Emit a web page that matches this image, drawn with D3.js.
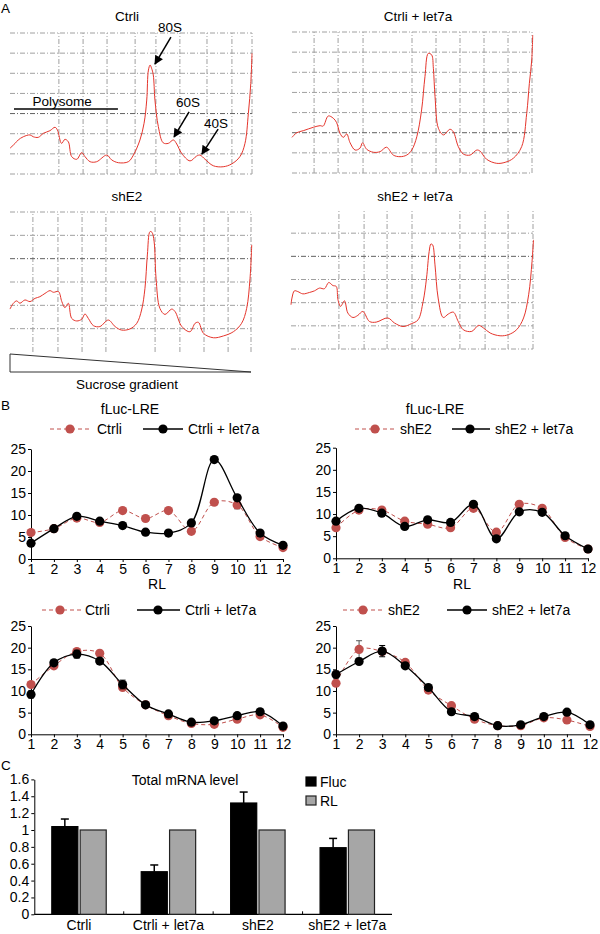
<!DOCTYPE html>
<html>
<head>
<meta charset="utf-8">
<script src="https://cdn.jsdelivr.net/npm/d3@7"></script>
<style>
  body { margin: 0; background: #fff; }
  svg { display: block; font-family: "Liberation Sans", Arial, sans-serif; }
</style>
</head>
<body>
<svg width="600" height="934"></svg>
<script>
// ================= DATA =================

// Panel A: sucrose gradient absorbance traces, [gradient position %, absorbance (grid units)]
var traceCtrli = [[0,1.28],[2.1,1.52],[3.4,1.69],[5.5,1.85],[8.3,1.94],[9.6,1.85],[11.7,1.82],[13.8,2.02],
  [16.5,2.15],[18.6,2.32],[19.6,2.18],[21.3,1.52],[22.7,1.72],[24.1,1.60],[25.5,0.86],[27.6,0.73],[29.6,1.06],
  [31.0,0.86],[33.1,0.61],[35.8,0.61],[40.0,0.94],[42.0,0.70],[44.8,0.56],[48.9,0.61],[51.0,0.94],[53.7,1.69],
  [55.4,2.52],[56.5,3.67],[57.2,5.16],[57.9,5.41],[58.5,5.25],[59.2,4.92],[59.9,3.67],[61.3,2.35],[63.3,1.55],
  [65.4,1.52],[67.5,1.69],[68.9,1.49],[70.9,1.03],[74.4,0.65],[77.1,0.89],[78.5,0.94],[80.6,0.73],[84.0,0.41],
  [88.1,0.36],[91.6,0.50],[95.0,0.86],[97.1,1.52],[98.5,3.01],[99.5,4.50],[100,5.99]];

var traceCtrliLet7a = [[0,1.77],[2.0,2.0],[4.7,2.10],[8.9,2.27],[11.7,2.35],[13.0,2.33],[15.1,2.83],[17.2,2.72],
  [18.6,2.50],[20.0,1.97],[21.4,1.77],[22.8,1.94],[24.2,1.50],[26.3,1.14],[28.3,1.23],[29.4,1.50],[31.1,1.18],
  [33.9,1.03],[36.7,1.06],[39.4,1.28],[42.2,0.89],[45.0,0.81],[47.8,0.89],[49.9,1.14],[52.0,1.80],[54.0,3.13],
  [55.4,4.78],[56.8,5.94],[58.2,5.86],[58.9,5.20],[59.6,3.79],[61.0,2.22],[63.1,1.89],[65.8,2.17],[67.2,2.05],
  [69.3,1.31],[71.4,0.94],[74.2,0.89],[77.0,1.14],[78.3,1.09],[81.1,0.68],[85.3,0.48],[88.8,0.53],[92.2,0.73],
  [95.7,1.31],[97.8,2.96],[98.9,4.45],[99.9,5.61],[100.3,6.85]];

var traceShE2 = [[0,1.84],[1.4,2.09],[2.8,2.19],[4.1,2.09],[6.2,2.23],[8.3,2.16],[10.4,2.30],[12.4,2.37],
  [14.5,2.51],[16.6,2.63],[18.0,2.56],[20.1,2.59],[21.5,2.16],[22.8,1.90],[24.2,2.09],[25.6,1.44],[27.7,1.33],
  [29.8,1.41],[31.1,1.63],[32.5,1.44],[34.6,1.13],[37.3,1.09],[40.8,1.37],[43.6,1.09],[46.3,0.94],[49.8,0.99],
  [52.6,1.23],[54.6,1.80],[56.0,2.73],[57.0,4.16],[58.1,5.16],[58.9,5.13],[59.8,4.73],[60.6,3.16],[62.2,1.87],
  [64.3,1.61],[67.1,1.84],[68.5,1.73],[71.3,1.09],[74.7,0.87],[76.8,1.23],[78.2,1.27],[80.3,0.80],[84.4,0.61],
  [88.6,0.69],[92.7,0.87],[96.1,1.23],[98.2,1.87],[99.6,3.16],[100.3,4.59]];

var traceShE2Let7a = [[0,1.91],[0.4,2.20],[1.4,2.51],[2.8,2.48],[4.9,2.38],[7.6,2.44],[9.7,2.51],[11.8,2.63],
  [13.8,2.60],[15.6,2.87],[17.3,2.74],[18.7,2.70],[19.4,2.13],[20.5,1.84],[22.1,2.08],[23.5,1.55],[25.6,1.36],
  [27.6,1.45],[29.7,1.62],[32.4,1.19],[35.2,1.16],[40.0,1.34],[42.8,1.12],[46.3,0.97],[49.7,1.09],[52.5,1.26],
  [54.6,2.05],[56.0,3.06],[57.1,4.21],[57.8,4.53],[58.5,4.50],[59.5,3.63],[60.8,2.20],[62.9,1.36],[65.0,1.51],
  [67.1,1.59],[69.1,1.19],[71.2,0.83],[74.7,0.76],[77.5,1.02],[79.5,0.91],[82.3,0.69],[86.4,0.57],[89.9,0.62],
  [93.3,0.84],[96.1,1.34],[98.2,2.34],[99.6,3.78],[100.2,4.71]];

var peakLabels = ["80S", "60S", "40S"];

// Panel B: fLuc-LRE distribution (%) per fraction
var fractions = [1, 2, 3, 4, 5, 6, 7, 8, 9, 10, 11, 12];
var lreCtrli        = [6.0, 6.9, 9.3, 8.3, 11.0, 9.2, 11.0, 6.3, 12.9, 12.3, 5.1, 2.6];
var lreCtrliErr     = [0.3, 0.2, 0.3, 0.3, 0.3, 0.3, 0.3, 0.3, 0.4, 0.9, 0.3, 0.2];
var lreCtrliLet7a   = [3.6, 6.9, 9.7, 8.6, 7.6, 6.1, 5.9, 8.2, 22.6, 13.9, 5.9, 3.1];
var lreCtrliLet7aErr= [0.3, 0.3, 0.3, 0.3, 0.3, 0.3, 0.3, 0.3, 0.5, 0.5, 0.3, 0.2];
var lreShE2         = [6.9, 10.9, 10.9, 8.4, 7.7, 6.9, 11.3, 5.9, 12.2, 11.3, 4.7, 2.1];
var lreShE2Err      = [0.3, 0.3, 0.3, 0.3, 0.3, 0.3, 0.3, 0.3, 0.3, 0.3, 0.3, 0.2];
var lreShE2Let7a    = [8.4, 11.3, 10.2, 7.2, 8.7, 8.1, 12.2, 4.4, 10.5, 10.4, 5.1, 2.1];
var lreShE2Let7aErr = [0.3, 0.3, 0.3, 0.3, 0.3, 0.3, 0.3, 0.3, 0.3, 0.3, 0.3, 0.2];

var totCtrli        = [11.5, 15.8, 19.1, 18.7, 10.8, 6.8, 4.3, 2.5, 2.3, 3.5, 4.5, 1.6];
var totCtrliErr     = [0.4, 0.4, 0.4, 0.4, 0.4, 0.3, 0.3, 0.2, 0.2, 0.3, 0.3, 0.2];
var totCtrliLet7a   = [9.2, 16.5, 18.5, 16.9, 11.5, 6.8, 4.7, 2.8, 3.1, 4.3, 5.2, 1.9];
var totCtrliLet7aErr= [0.8, 0.4, 0.9, 0.5, 1.0, 0.3, 0.3, 0.2, 0.2, 0.3, 0.3, 0.2];
var totShE2         = [11.8, 19.6, 19.1, 16.6, 10.2, 6.6, 3.5, 2.0, 2.0, 3.8, 3.3, 1.8];
var totShE2Err      = [0.4, 2.0, 0.4, 0.4, 0.4, 0.3, 0.3, 0.2, 0.2, 0.3, 0.3, 0.2];
var totShE2Let7a    = [13.8, 16.8, 19.2, 15.8, 10.8, 5.2, 4.1, 2.0, 2.2, 4.1, 5.1, 2.2];
var totShE2Let7aErr = [0.8, 0.4, 1.3, 0.4, 0.4, 0.3, 0.3, 0.2, 0.2, 0.3, 0.3, 0.2];
var profileTicks = [0, 5, 10, 15, 20, 25];

// Panel C: total mRNA level
var groups = ["Ctrli", "Ctrli + let7a", "shE2", "shE2 + let7a"];
var seriesC = ["Fluc", "RL"];
var flucLevel = [1.04, 0.505, 1.32, 0.79];
var flucErr   = [0.09, 0.08, 0.13, 0.11];
var rlLevel   = [1, 1, 1, 1];
var levelTicks = [0, 0.2, 0.4, 0.6, 0.8, 1, 1.2, 1.4, 1.6];

// ================= DRAWING =================
var FONT = '"Liberation Sans", Arial, sans-serif';
var RED = "#c0504d";
var TRACE = "#e5352c";
var FS = 14;      // panels B and C
var FSA = 13.5;   // panel A

var svg = d3.select("svg");

svg.append("defs").append("marker")
    .attr("id", "arrow")
    .attr("markerUnits", "userSpaceOnUse")
    .attr("viewBox", "0 0 10 10")
    .attr("markerWidth", 10).attr("markerHeight", 9)
    .attr("refX", 9).attr("refY", 5)
    .attr("orient", "auto")
  .append("path").attr("d", "M0,0L10,5L0,10z").attr("fill", "#000");

function label(txt, x, y, anchor, size) {
    return svg.append("text")
        .attr("x", x).attr("y", y)
        .attr("text-anchor", anchor || "start")
        .attr("font-size", size || FS)
        .attr("fill", "#000")
        .text(txt);
}

label("A", 1, 13, "start", 13.5);
label("B", 1, 410, "start", 13.5);
label("C", 1, 770, "start", 13.5);

// ---------- Panel A ----------
var panelsA = [
  {title: "Ctrli", data: traceCtrli, l: 10, r: 252, t: 33, b: 174, yMax: 7, titleX: 127, titleY: 21,
   vLines: [20.2, 30.2, 40.1, 51.7, 60.3, 70.2, 81.4, 91.7, 100], hLines: [0,1,2,3,4,5,6,7], dark: 3},
  {title: "Ctrli + let7a", data: traceCtrliLet7a, l: 292, r: 532, t: 32, b: 173, yMax: 7, titleX: 418, titleY: 21,
   vLines: [9.2, 19.2, 29.6, 50, 60, 70, 80, 90, 100], hLines: [0,1,2,3,4,5,6,7], dark: 2},
  {title: "shE2", data: traceShE2, l: 10, r: 251, t: 212, b: 352, yMax: 6, titleX: 127, titleY: 201,
   vLines: [9.5, 19.9, 29.9, 39.8, 60.2, 70.5, 80.5, 90.5, 100], hLines: [1,2,3,4,5,6], dark: 4},
  {title: "shE2 + let7a", data: traceShE2Let7a, l: 291, r: 533, t: 210, b: 349, yMax: 6, titleX: 415, titleY: 201,
   vLines: [19.8, 30.2, 39.7, 50, 69.8, 80.2, 89.7, 100], hLines: [0,1,2,3,4,5], dark: 4}
];

var scalesA = panelsA.map(function(p) {
    var x = d3.scaleLinear().domain([0, 100]).range([p.l, p.r]);
    var y = d3.scaleLinear().domain([0, p.yMax]).range([p.b, p.t]);
    var g = svg.append("g");

    g.selectAll(".vg").data(p.vLines).enter().append("line")
        .attr("x1", function(d) { return x(d); }).attr("x2", function(d) { return x(d); })
        .attr("y1", y(0)).attr("y2", y(p.yMax))
        .attr("stroke", "#a0a0a0").attr("stroke-width", 1)
        .attr("stroke-dasharray", "5,2,1,2");

    g.selectAll(".hg").data(p.hLines).enter().append("line")
        .attr("x1", x(0)).attr("x2", x(100))
        .attr("y1", function(d) { return y(d); }).attr("y2", function(d) { return y(d); })
        .attr("stroke", function(d) { return d === p.dark ? "#606060" : "#a0a0a0"; })
        .attr("stroke-width", 1)
        .attr("stroke-dasharray", "5,2,1,2");

    g.append("path")
        .datum(p.data)
        .attr("fill", "none")
        .attr("stroke", TRACE)
        .attr("stroke-width", 1)
        .attr("d", d3.line()
            .x(function(d) { return x(d[0]); })
            .y(function(d) { return y(d[1]); })
            .curve(d3.curveCatmullRom));

    label(p.title, p.titleX, p.titleY, "middle", FSA);
    return {x: x, y: y};
});

// annotations on Ctrli trace (gradient %, absorbance units)
var sA = scalesA[0];
var peakText = [[66.1, 7.25], [73.6, 3.57], [85.1, 2.53]];
var peakFrom = [[66.5, 6.8], [74.0, 3.08], [86.0, 2.23]];
var peakTo   = [[59.9, 5.46], [67.8, 1.84], [79.3, 0.99]];
peakLabels.forEach(function(t, i) {
    label(t, sA.x(peakText[i][0]), sA.y(peakText[i][1]) + 4.5, "middle", FSA);
    svg.append("line")
        .attr("x1", sA.x(peakFrom[i][0])).attr("y1", sA.y(peakFrom[i][1]))
        .attr("x2", sA.x(peakTo[i][0])).attr("y2", sA.y(peakTo[i][1]))
        .attr("stroke", "#000").attr("stroke-width", 1.5)
        .attr("marker-end", "url(#arrow)");
});
label("Polysome", sA.x(21.5), sA.y(3.62) + 4.5, "middle", FSA);
svg.append("line")
    .attr("x1", sA.x(1.65)).attr("x2", sA.x(44.6))
    .attr("y1", sA.y(3.23)).attr("y2", sA.y(3.23))
    .attr("stroke", "#000").attr("stroke-width", 1.5);

// sucrose gradient wedge under shE2
var sG = scalesA[2];
svg.append("path")
    .attr("d", "M" + sG.x(0) + "," + (sG.y(0) + 2) + "L" + sG.x(100) + "," + (sG.y(0) + 20) +
               "L" + sG.x(0) + "," + (sG.y(0) + 20) + "Z")
    .attr("fill", "none").attr("stroke", "#333").attr("stroke-width", 1);
label("Sucrose gradient", 127, 389, "middle", FSA);

// ---------- Panel B ----------
var profiles = [
  {title: "fLuc-LRE", rl: true, x0: 31, x1: 283, yb: 559, yt: 449, legendY: 429,
   red: lreCtrli, redErr: lreCtrliErr, black: lreCtrliLet7a, blackErr: lreCtrliLet7aErr,
   redName: "Ctrli", blackName: "Ctrli + let7a", leg: [50, 92, 70, 97, 143, 183, 163, 188]},
  {title: "fLuc-LRE", rl: true, x0: 336, x1: 588, yb: 558.3, yt: 447.7, legendY: 429,
   red: lreShE2, redErr: lreShE2Err, black: lreShE2Let7a, blackErr: lreShE2Let7aErr,
   redName: "shE2", blackName: "shE2 + let7a", leg: [355, 397, 375, 400, 452, 490, 470, 495]},
  {title: null, rl: false, x0: 31, x1: 283, yb: 734.3, yt: 626, legendY: 610,
   red: totCtrli, redErr: totCtrliErr, black: totCtrliLet7a, blackErr: totCtrliLet7aErr,
   redName: "Ctrli", blackName: "Ctrli + let7a", leg: [42, 82, 60, 85, 137, 180, 158, 185]},
  {title: null, rl: false, x0: 336, x1: 590, yb: 734.3, yt: 626, legendY: 610,
   red: totShE2, redErr: totShE2Err, black: totShE2Let7a, blackErr: totShE2Let7aErr,
   redName: "shE2", blackName: "shE2 + let7a", leg: [343, 385, 363, 388, 447, 487, 467, 492]}
];

function styleAxis(sel) {
    sel.attr("font-size", FS).attr("font-family", FONT);
    sel.selectAll("path, line").attr("stroke", "#000");
    sel.selectAll("text").attr("fill", "#000");
}

profiles.forEach(function(c) {
    var x = d3.scaleLinear().domain([1, 12]).range([c.x0, c.x1]);
    var y = d3.scaleLinear().domain([0, 25]).range([c.yb, c.yt]);
    var g = svg.append("g");

    g.append("g")
        .attr("transform", "translate(0," + c.yb + ")")
        .call(d3.axisBottom(x).tickValues(fractions).tickFormat(d3.format("d"))
            .tickSize(3).tickSizeOuter(0).tickPadding(2))
        .call(styleAxis);

    g.append("g")
        .attr("transform", "translate(" + c.x0 + ",0)")
        .call(d3.axisLeft(y).tickValues(profileTicks).tickSize(3).tickSizeOuter(0).tickPadding(2))
        .call(styleAxis);

    if (c.title) label(c.title, (c.x0 + c.x1) / 2 - 27, 414, "middle");
    if (c.rl) label("RL", (c.x0 + c.x1) / 2, 589, "middle");

    var series = [
      {vals: c.red, err: c.redErr, color: RED, dash: "4,3", width: 1, errColor: "#555"},
      {vals: c.black, err: c.blackErr, color: "#000", dash: null, width: 1.3, errColor: "#000"}
    ];

    series.forEach(function(s) {
        var pts = fractions.map(function(f, i) { return {f: f, v: s.vals[i], e: s.err[i]}; });

        g.append("path")
            .datum(pts)
            .attr("fill", "none")
            .attr("stroke", s.color)
            .attr("stroke-width", s.width)
            .attr("stroke-dasharray", s.dash)
            .attr("d", d3.line()
                .x(function(d) { return x(d.f); })
                .y(function(d) { return y(d.v); })
                .curve(d3.curveCatmullRom));

        var eb = g.selectAll(null).data(pts).enter().append("g").attr("stroke", s.errColor).attr("stroke-width", 1);
        eb.append("line")
            .attr("x1", function(d) { return x(d.f); }).attr("x2", function(d) { return x(d.f); })
            .attr("y1", function(d) { return y(d.v - d.e); }).attr("y2", function(d) { return y(d.v + d.e); });
        eb.append("line")
            .attr("x1", function(d) { return x(d.f) - 3; }).attr("x2", function(d) { return x(d.f) + 3; })
            .attr("y1", function(d) { return y(d.v + d.e); }).attr("y2", function(d) { return y(d.v + d.e); });
        eb.append("line")
            .attr("x1", function(d) { return x(d.f) - 3; }).attr("x2", function(d) { return x(d.f) + 3; })
            .attr("y1", function(d) { return y(d.v - d.e); }).attr("y2", function(d) { return y(d.v - d.e); });

        g.selectAll(null).data(pts).enter().append("circle")
            .attr("cx", function(d) { return x(d.f); })
            .attr("cy", function(d) { return y(d.v); })
            .attr("r", 4.6)
            .attr("fill", s.color);
    });

    // legend
    var L = c.leg, ly = c.legendY;
    g.append("line").attr("x1", L[0]).attr("x2", L[1]).attr("y1", ly).attr("y2", ly)
        .attr("stroke", RED).attr("stroke-width", 1).attr("stroke-dasharray", "4,3");
    g.append("circle").attr("cx", L[2]).attr("cy", ly).attr("r", 4.6).attr("fill", RED);
    label(c.redName, L[3], ly + 5, "start");
    g.append("line").attr("x1", L[4]).attr("x2", L[5]).attr("y1", ly).attr("y2", ly)
        .attr("stroke", "#000").attr("stroke-width", 1.3);
    g.append("circle").attr("cx", L[6]).attr("cy", ly).attr("r", 4.6).attr("fill", "#000");
    label(c.blackName, L[7], ly + 5, "start");
});

// ---------- Panel C ----------
var xC = d3.scaleBand().domain(groups).range([34.3, 392]).padding(0);
var xSub = d3.scaleBand().domain(seriesC).range([17.5, xC.bandwidth() - 17.5]).paddingInner(0.08);
var yC = d3.scaleLinear().domain([0, 1.6]).range([914.3, 779.4]);

var gC = svg.append("g");

gC.append("g")
    .attr("transform", "translate(34.3,0)")
    .call(d3.axisLeft(yC).tickValues(levelTicks).tickFormat(function(d) { return d3.format("")(+d.toFixed(1)); })
        .tickSize(3).tickSizeOuter(0).tickPadding(2))
    .call(styleAxis);

gC.append("line")
    .attr("x1", xC.range()[0]).attr("x2", xC.range()[1])
    .attr("y1", yC(0)).attr("y2", yC(0))
    .attr("stroke", "#000").attr("stroke-width", 1.2);

// separator ticks between groups
gC.selectAll(".sep").data(groups.slice(1)).enter().append("line")
    .attr("x1", function(d) { return xC(d); }).attr("x2", function(d) { return xC(d); })
    .attr("y1", yC(0)).attr("y2", yC(0) - 3)
    .attr("stroke", "#000");

gC.selectAll(".cat").data(groups).enter().append("text")
    .attr("x", function(d) { return xC(d) + xC.bandwidth() / 2; })
    .attr("y", 930)
    .attr("text-anchor", "middle")
    .attr("font-size", FS)
    .text(function(d) { return d; });

var barsC = [];
groups.forEach(function(gname, i) {
    barsC.push({g: gname, s: "Fluc", v: flucLevel[i], e: flucErr[i]});
    barsC.push({g: gname, s: "RL", v: rlLevel[i], e: 0});
});

gC.selectAll(".bar").data(barsC).enter().append("rect")
    .attr("x", function(d) { return xC(d.g) + xSub(d.s); })
    .attr("y", function(d) { return yC(d.v); })
    .attr("width", xSub.bandwidth())
    .attr("height", function(d) { return yC(0) - yC(d.v); })
    .attr("fill", function(d) { return d.s === "Fluc" ? "#000" : "#a6a6a6"; })
    .attr("stroke", function(d) { return d.s === "Fluc" ? "#000" : "#222"; })
    .attr("stroke-width", 1.2);

var errC = gC.selectAll(".err").data(barsC.filter(function(d) { return d.e > 0; })).enter()
    .append("g").attr("stroke", "#000").attr("stroke-width", 1.5);
errC.append("line")
    .attr("x1", function(d) { return xC(d.g) + xSub(d.s) + xSub.bandwidth() / 2; })
    .attr("x2", function(d) { return xC(d.g) + xSub(d.s) + xSub.bandwidth() / 2; })
    .attr("y1", function(d) { return yC(d.v); })
    .attr("y2", function(d) { return yC(d.v + d.e); });
errC.append("line")
    .attr("x1", function(d) { return xC(d.g) + xSub(d.s) + xSub.bandwidth() / 2 - 4; })
    .attr("x2", function(d) { return xC(d.g) + xSub(d.s) + xSub.bandwidth() / 2 + 4; })
    .attr("y1", function(d) { return yC(d.v + d.e); })
    .attr("y2", function(d) { return yC(d.v + d.e); });

label("Total mRNA level", 185, 785, "middle");

// legend
var legC = gC.selectAll(".legC").data(seriesC).enter().append("g")
    .attr("transform", function(d, i) { return "translate(306," + (777 + i * 19) + ")"; });
legC.append("rect")
    .attr("width", 10).attr("height", 9)
    .attr("fill", function(d) { return d === "Fluc" ? "#000" : "#a6a6a6"; })
    .attr("stroke", function(d) { return d === "Fluc" ? "#000" : "#222"; })
    .attr("stroke-width", 1.2);
legC.append("text")
    .attr("x", 14).attr("y", 9.5)
    .attr("font-size", FS)
    .text(function(d) { return d; });
</script>
</body>
</html>
